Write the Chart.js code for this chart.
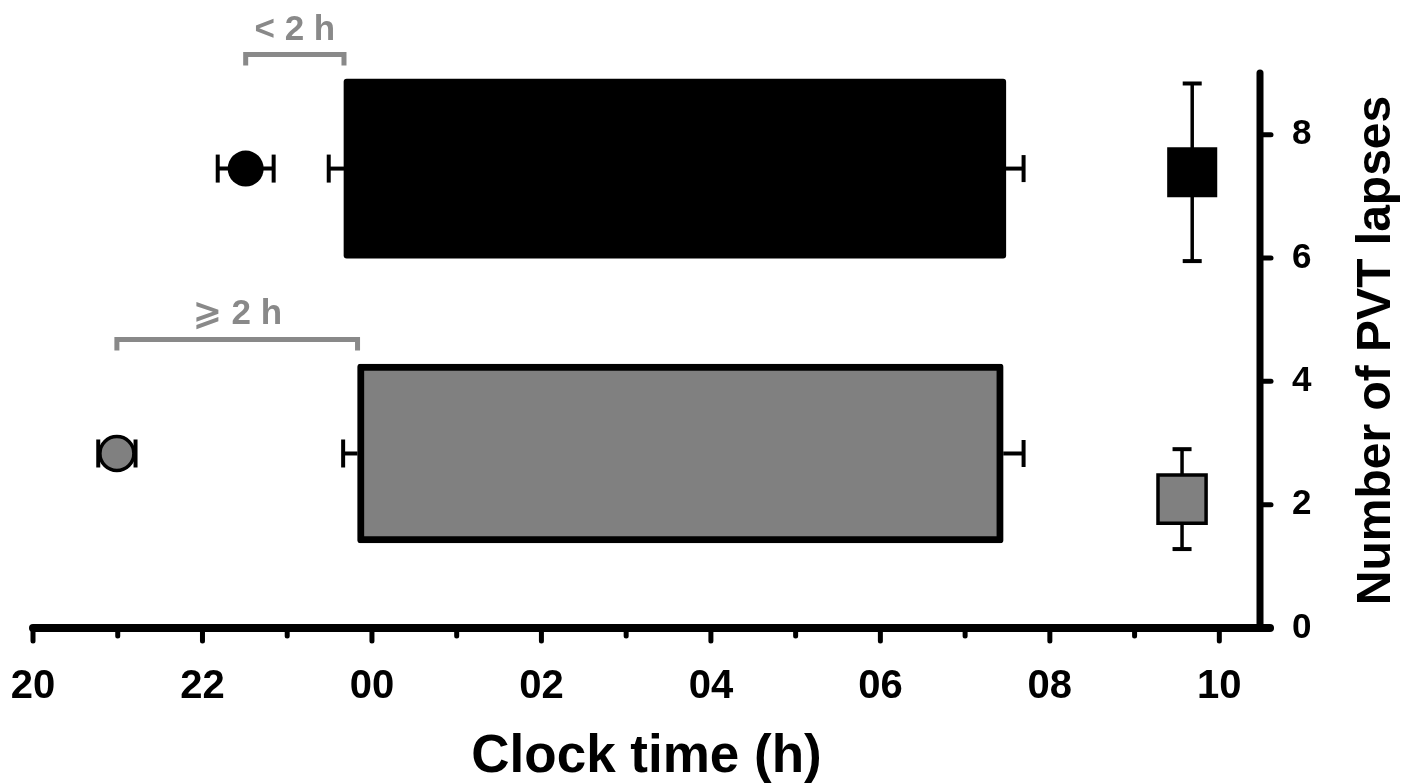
<!DOCTYPE html>
<html>
<head>
<meta charset="utf-8">
<title>Sleep timing, DLMO and PVT lapses</title>
<script src="https://cdn.jsdelivr.net/npm/chart.js@4.4.1/dist/chart.umd.min.js"></script>
<style>
  html, body { margin: 0; padding: 0; background: #fff; }
  #wrap { width: 1413px; height: 784px; position: relative; }
</style>
</head>
<body>
<div id="wrap"><canvas id="chart"></canvas></div>
<script>
// two groups, split by the interval between DLMO and sleep onset
const groupLabels = ['< 2 h', '⩾ 2 h'];
const rowLevel = [7.45, 2.83];   // y level where each group's row sits

// clock times in hours; after midnight written as 24+
const dlmoMean = [22.51, 20.99];
const dlmoSem = [0.33, 0.22];
const sleepOnset = [23.67, 23.83];
const sleepOnsetSem = [0.18, 0.17];
const sleepOffset = [31.48, 31.45];
const sleepOffsetSem = [0.21, 0.24];

// PVT lapses, plotted at the right end of the time axis
const lapseTime = [33.68, 33.56];
const lapseMean = [7.39, 2.09];
const lapseSem = [1.44, 0.81];

const xTickValues = [20, 22, 24, 26, 28, 30, 32, 34];
const xTickLabels = ['20', '22', '00', '02', '04', '06', '08', '10'];
const yTickValues = [0, 2, 4, 6, 8];

const FONT = '"Liberation Sans", Arial, "DejaVu Sans", sans-serif';
const GREY = '#808080';
const BRACKET = '#898989';
const BRACKET_RISE = 1.85;
const BRACKET_DROP = 0.18;

function whisker(points, capRadius, capRotation, width) {
    return {
        type: 'line',
        data: points,
        showLine: true,
        fill: false,
        borderColor: '#000',
        borderWidth: width,
        pointStyle: 'line',
        pointRadius: capRadius,
        pointHoverRadius: capRadius,
        pointRotation: capRotation,
        pointBorderColor: '#000',
        pointBorderWidth: 4,
        order: 3
    };
}

const datasets = [];

// sleep period bars
datasets.push({
    type: 'bar',
    indexAxis: 'y',
    data: rowLevel.map((r, i) => ({ y: r, x: [sleepOnset[i], sleepOffset[i]] })),
    backgroundColor: ['#000000', GREY],
    borderColor: '#000000',
    borderWidth: [0, 7],
    borderSkipped: false,
    borderRadius: 3,
    barThickness: 179,
    grouped: false,
    order: 5
});

rowLevel.forEach((r, i) => {
    datasets.push(whisker([
        { x: dlmoMean[i] - dlmoSem[i], y: r },
        { x: dlmoMean[i] + dlmoSem[i], y: r }
    ], 14, 90, 4));
    datasets.push(whisker([
        { x: sleepOnset[i], y: r },
        { x: sleepOnset[i] - sleepOnsetSem[i], y: r }
    ], [0, 14], 90, 4));
    datasets.push(whisker([
        { x: sleepOffset[i], y: r },
        { x: sleepOffset[i] + sleepOffsetSem[i], y: r }
    ], [0, 13.5], 90, 4));
    datasets.push(whisker([
        { x: lapseTime[i], y: lapseMean[i] - lapseSem[i] },
        { x: lapseTime[i], y: lapseMean[i] + lapseSem[i] }
    ], 9.5, 0, 3.5));

    // bracket from DLMO to sleep onset
    const b = r + BRACKET_RISE;
    datasets.push({
        type: 'line',
        data: [
            { x: dlmoMean[i], y: b - BRACKET_DROP },
            { x: dlmoMean[i], y: b },
            { x: sleepOnset[i], y: b },
            { x: sleepOnset[i], y: b - BRACKET_DROP }
        ],
        showLine: true,
        fill: false,
        borderColor: BRACKET,
        borderWidth: 5,
        borderJoinStyle: 'miter',
        pointRadius: 0,
        pointHoverRadius: 0,
        clip: false,
        order: 3
    });
});

// DLMO circles
datasets.push({
    type: 'scatter',
    data: rowLevel.map((r, i) => ({ x: dlmoMean[i], y: r })),
    pointStyle: 'circle',
    pointRadius: [18, 17],
    pointHoverRadius: [18, 17],
    backgroundColor: ['#000000', GREY],
    borderColor: '#000000',
    borderWidth: [0, 3.5],
    order: 1
});

// PVT lapse squares
datasets.push({
    type: 'scatter',
    data: lapseMean.map((m, i) => ({ x: lapseTime[i], y: m })),
    pointStyle: 'rect',
    pointRadius: [35.4, 34],
    pointHoverRadius: [35.4, 34],
    backgroundColor: ['#000000', GREY],
    borderColor: '#000000',
    borderWidth: [0, 3.5],
    order: 1
});

const decor = {
    id: 'decor',
    afterDraw(chart) {
        const { ctx, chartArea: a, scales: { x, y } } = chart;
        ctx.save();
        ctx.strokeStyle = '#000';
        ctx.lineCap = 'round';

        ctx.lineWidth = 8;
        ctx.beginPath();
        ctx.moveTo(a.left, a.bottom);
        ctx.lineTo(a.right + 10, a.bottom);
        ctx.stroke();

        ctx.lineWidth = 7;
        ctx.beginPath();
        ctx.moveTo(a.right, a.top);
        ctx.lineTo(a.right, a.bottom);
        ctx.stroke();

        ctx.lineWidth = 5;
        for (let h = Math.ceil(x.min); h <= x.max; h++) {
            const px = x.getPixelForValue(h);
            const len = h % 2 === 0 ? 13 : 8;
            ctx.beginPath();
            ctx.moveTo(px, a.bottom);
            ctx.lineTo(px, a.bottom + len);
            ctx.stroke();
        }
        yTickValues.forEach(v => {
            const py = y.getPixelForValue(v);
            ctx.beginPath();
            ctx.moveTo(a.right, py);
            ctx.lineTo(a.right + 11, py);
            ctx.stroke();
        });

        // bracket labels
        ctx.fillStyle = BRACKET;
        ctx.font = 'bold 35px ' + FONT;
        ctx.textAlign = 'center';
        ctx.textBaseline = 'alphabetic';
        groupLabels.forEach((t, i) => {
            const px = x.getPixelForValue((dlmoMean[i] + sleepOnset[i]) / 2);
            const py = y.getPixelForValue(rowLevel[i] + BRACKET_RISE) - 15;
            ctx.fillText(t, px, py);
        });

        // right axis title, reading bottom to top
        ctx.fillStyle = '#000';
        ctx.font = 'bold 48px ' + FONT;
        ctx.textBaseline = 'middle';
        ctx.translate(a.right + 117, (a.top + a.bottom) / 2);
        ctx.rotate(-Math.PI / 2);
        ctx.fillText('Number of PVT lapses', 0, 0);
        ctx.restore();
    }
};

new Chart(document.getElementById('chart'), {
    type: 'scatter',
    data: { datasets },
    options: {
        responsive: true,
        maintainAspectRatio: false,
        animation: false,
        events: [],
        layout: { autoPadding: false, padding: { left: 33, top: 73, right: 0, bottom: 0 } },
        plugins: {
            legend: { display: false },
            tooltip: { enabled: false }
        },
        scales: {
            x: {
                type: 'linear',
                position: 'bottom',
                min: 20,
                max: 34.48,
                offset: false,
                grid: { display: false, drawTicks: false },
                border: { display: false },
                afterBuildTicks: s => { s.ticks = xTickValues.map(v => ({ value: v })); },
                afterFit: s => { s.height = 156; s.paddingLeft = 0; s.paddingRight = 0; },
                ticks: {
                    padding: 35,
                    color: '#000',
                    maxRotation: 0,
                    font: { family: FONT, size: 40, weight: 'bold' },
                    callback: v => xTickLabels[xTickValues.indexOf(v)]
                },
                title: {
                    display: true,
                    text: 'Clock time (h)',
                    color: '#000',
                    padding: 0,
                    font: { family: FONT, size: 53, weight: 'bold', lineHeight: 1 }
                }
            },
            y: {
                type: 'linear',
                position: 'right',
                min: 0,
                max: 9,
                offset: false,
                grid: { display: false, drawTicks: false },
                border: { display: false },
                afterBuildTicks: s => { s.ticks = yTickValues.map(v => ({ value: v })); },
                afterFit: s => { s.width = 153; s.paddingTop = 0; s.paddingBottom = 0; },
                ticks: {
                    padding: 32,
                    color: '#000',
                    font: { family: FONT, size: 35, weight: 'bold' }
                }
            }
        }
    },
    plugins: [decor]
});
</script>
</body>
</html>
